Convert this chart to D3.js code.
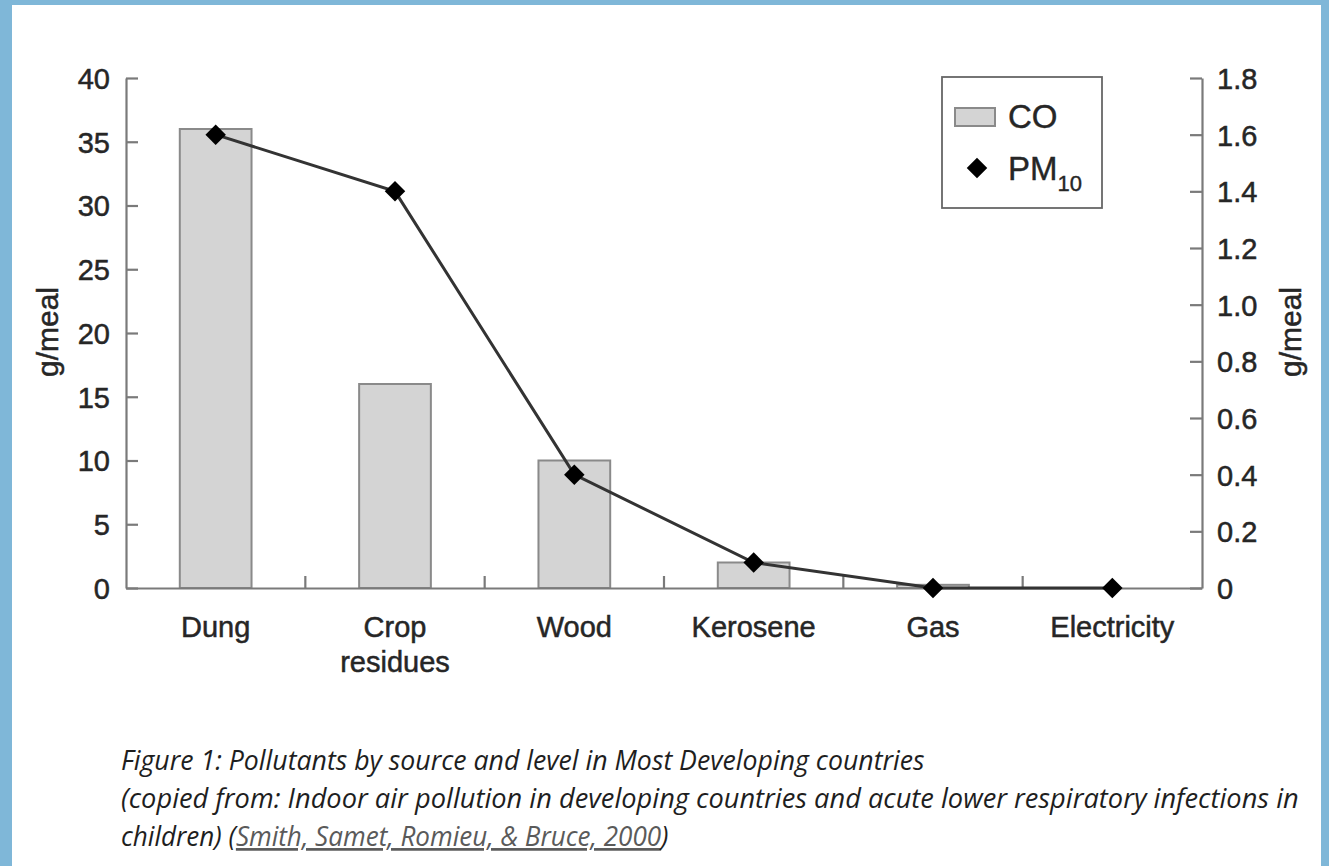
<!DOCTYPE html>
<html>
<head>
<meta charset="utf-8">
<script src="https://cdn.jsdelivr.net/npm/d3@7"></script>
<style>
  html, body { margin: 0; padding: 0; background: #7fb7d8; }
  svg { display: block; }
</style>
</head>
<body>
<svg id="chart"></svg>
<script>
// data
const categories = ['Dung', 'Crop residues', 'Wood', 'Kerosene', 'Gas', 'Electricity'];
const coValues = [36, 16, 10, 2, 0.25, 0];
const pmValues = [1.6, 1.4, 0.4, 0.09, 0, 0];
const leftTicks = [0, 5, 10, 15, 20, 25, 30, 35, 40];
const rightTicks = [0, 0.2, 0.4, 0.6, 0.8, 1.0, 1.2, 1.4, 1.6, 1.8];
const captionLines = [
  'Figure 1: Pollutants by source and level in Most Developing countries',
  '(copied from: Indoor air pollution in developing countries and acute lower respiratory infections in'
];
const citation = 'Smith, Samet, Romieu, & Bruce, 2000';

const W = 1329;
const H = 866;
const FONT = '"Liberation Sans", Arial, sans-serif';
const AXIS_COLOR = '#7a7a7a';
const TEXT_COLOR = '#262626';

const plot = { left: 126, right: 1202, top: 78, bottom: 588 };

const svg = d3.select('#chart')
  .attr('width', W)
  .attr('height', H);

// white page on blue frame
svg.append('rect')
  .attr('x', 12).attr('y', 5)
  .attr('width', 1309).attr('height', H - 5)
  .attr('fill', '#fff');

const x = d3.scaleBand()
  .domain(categories)
  .range([plot.left, plot.right])
  .paddingInner(0)
  .paddingOuter(0);

const yLeft = d3.scaleLinear().domain([0, 40]).range([plot.bottom, plot.top]);
const yRight = d3.scaleLinear().domain([0, 1.8]).range([plot.bottom, plot.top]);

const barWidth = x.bandwidth() * 0.4;

// bars (CO)
svg.append('g')
  .selectAll('rect')
  .data(categories)
  .join('rect')
  .attr('x', (d) => x(d) + (x.bandwidth() - barWidth) / 2)
  .attr('y', (d, i) => yLeft(coValues[i]))
  .attr('width', barWidth)
  .attr('height', (d, i) => yLeft(0) - yLeft(coValues[i]))
  .attr('fill', '#d4d4d4')
  .attr('stroke', '#8a8a8a')
  .attr('stroke-width', 2);

// left axis
const leftAxis = svg.append('g')
  .attr('transform', `translate(${plot.left},0)`)
  .call(d3.axisLeft(yLeft).tickValues(leftTicks).tickSize(-12).tickSizeOuter(0).tickPadding(16));

// right axis
const rightAxis = svg.append('g')
  .attr('transform', `translate(${plot.right},0)`)
  .call(d3.axisRight(yRight).tickValues(rightTicks).tickSize(-12).tickSizeOuter(0).tickPadding(15)
    .tickFormat((d) => (d === 0 ? '0' : d3.format('.1f')(d))));

// bottom axis: labels from the band scale, ticks at band boundaries
const bottomAxis = svg.append('g')
  .attr('transform', `translate(0,${plot.bottom})`)
  .call(d3.axisBottom(x).tickSize(0).tickSizeOuter(0).tickPadding(0));

bottomAxis.selectAll('.tick text')
  .attr('y', 0)
  .attr('dy', null)
  .text(null)
  .each(function (d) {
    const words = d === 'Crop residues' ? ['Crop', 'residues'] : [d];
    const t = d3.select(this);
    words.forEach((w, i) => {
      t.append('tspan')
        .attr('x', 0)
        .attr('y', 49 + i * 35)
        .text(w);
    });
  });

bottomAxis.selectAll('.boundary')
  .data(categories.slice(1))
  .join('line')
  .attr('class', 'boundary')
  .attr('x1', (d) => x(d))
  .attr('x2', (d) => x(d))
  .attr('y1', 0)
  .attr('y2', -12);

[leftAxis, rightAxis, bottomAxis].forEach((g) => {
  g.selectAll('path.domain').attr('stroke', AXIS_COLOR).attr('stroke-width', 2.2);
  g.selectAll('line').attr('stroke', AXIS_COLOR).attr('stroke-width', 2.2);
  g.selectAll('text')
    .style('font-family', FONT)
    .style('font-size', '29px')
    .attr('fill', TEXT_COLOR)
    .attr('stroke', TEXT_COLOR)
    .attr('stroke-width', 0.5);
});
leftAxis.selectAll('text').attr('dy', '0.36em');
rightAxis.selectAll('text').attr('dy', '0.36em');

// PM10 line + diamonds
const pmPoints = categories.map((c, i) => [x(c) + x.bandwidth() / 2, yRight(pmValues[i])]);

svg.append('path')
  .datum(pmPoints)
  .attr('d', d3.line())
  .attr('fill', 'none')
  .attr('stroke', '#333')
  .attr('stroke-width', 3);

const diamond = d3.symbol().type(d3.symbolSquare).size(210);
svg.append('g')
  .selectAll('path')
  .data(pmPoints)
  .join('path')
  .attr('d', diamond)
  .attr('transform', (d) => `translate(${d[0]},${d[1]}) rotate(45)`)
  .attr('fill', '#000');

// axis titles
[47, 1290].forEach((cx) => {
  svg.append('text')
    .attr('transform', `translate(${cx},332) rotate(-90)`)
    .attr('text-anchor', 'middle')
    .attr('dy', '0.35em')
    .style('font-family', FONT)
    .style('font-size', '30px')
    .attr('fill', TEXT_COLOR)
    .attr('stroke', TEXT_COLOR)
    .attr('stroke-width', 0.5)
    .text('g/meal');
});

// legend
const legend = svg.append('g');
legend.append('rect')
  .attr('x', 942).attr('y', 77)
  .attr('width', 160).attr('height', 131)
  .attr('fill', '#fff')
  .attr('stroke', '#666')
  .attr('stroke-width', 1.8);
legend.append('rect')
  .attr('x', 955).attr('y', 108)
  .attr('width', 40).attr('height', 18)
  .attr('fill', '#d4d4d4')
  .attr('stroke', '#8a8a8a')
  .attr('stroke-width', 2);
legend.append('text')
  .attr('x', 1008).attr('y', 128)
  .style('font-family', FONT)
  .style('font-size', '33px')
  .attr('fill', TEXT_COLOR)
  .attr('stroke', TEXT_COLOR)
  .attr('stroke-width', 0.4)
  .text('CO');
legend.append('path')
  .attr('d', d3.symbol().type(d3.symbolSquare).size(210))
  .attr('transform', 'translate(977,168) rotate(45)')
  .attr('fill', '#000');
const pmLabel = legend.append('text')
  .attr('x', 1008).attr('y', 180)
  .style('font-family', FONT)
  .style('font-size', '33px')
  .attr('fill', TEXT_COLOR)
  .attr('stroke', TEXT_COLOR)
  .attr('stroke-width', 0.4);
pmLabel.append('tspan').text('PM');
pmLabel.append('tspan')
  .attr('dy', 11)
  .style('font-size', '22px')
  .text('10');

// caption: natural text, squeezed horizontally to the widths in the figure
const CAPTION_FONT = '"Open Sans", "Noto Sans", sans-serif';
const caption = svg.append('g')
  .style('font-family', CAPTION_FONT)
  .style('font-style', 'italic')
  .style('font-size', '27px')
  .attr('fill', '#1e1e1e');

function fitLine (sel, left, width) {
  const natural = sel.node().getComputedTextLength();
  sel.attr('transform', `translate(${left},0) scale(${width / natural},1)`);
}

const l1 = caption.append('text').attr('y', 770).text(captionLines[0]);
fitLine(l1, 121, 804);
const l2 = caption.append('text').attr('y', 808).text(captionLines[1]);
fitLine(l2, 121, 1178);

const l3 = caption.append('text').attr('y', 846);
l3.append('tspan').text('children) (');
l3.append('tspan')
  .attr('fill', '#5a5a5a')
  .style('text-decoration', 'underline')
  .text(citation);
l3.append('tspan').text(')');
fitLine(l3, 121, 548);
</script>
</body>
</html>
